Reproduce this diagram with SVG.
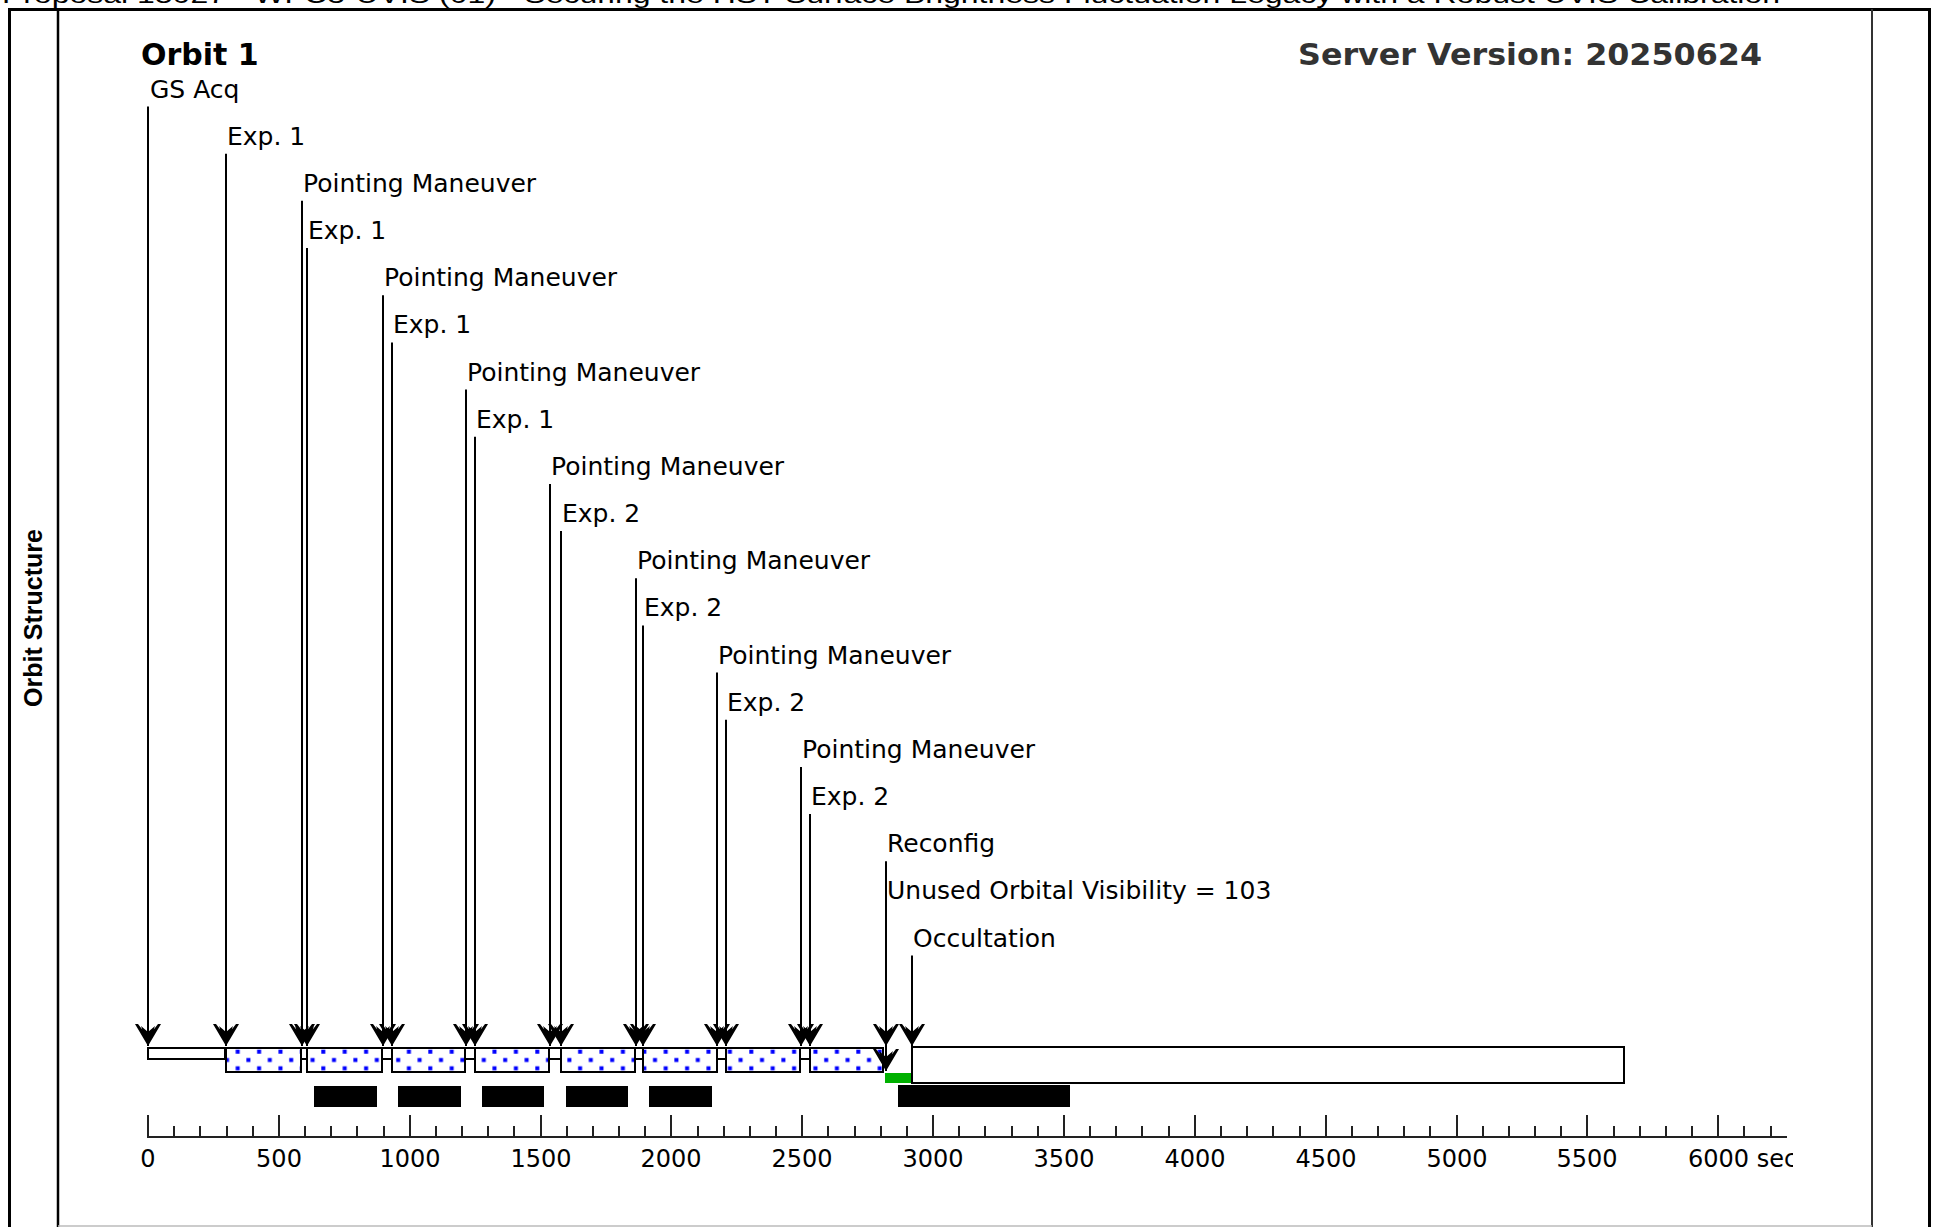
<svg xmlns="http://www.w3.org/2000/svg" width="1939" height="1227" viewBox="0 0 1939 1227">
<style>
.lbl{font-family:"DejaVu Sans",sans-serif;font-size:25px;fill:#000}
.ax{font-family:"DejaVu Sans",sans-serif;font-size:24px;fill:#000;text-anchor:middle}
.ln{stroke:#000;stroke-width:2;fill:none;marker-end:url(#ah)}
.thin{fill:#fff;stroke:#000;stroke-width:2}
.exp{fill:url(#dots);stroke:#000;stroke-width:2}
.blk{fill:#000}
</style>
<defs>
<pattern id="dots" patternUnits="userSpaceOnUse" x="0" y="1046" width="21.4" height="16.6">
<rect width="21.4" height="16.6" fill="#fff"/>
<rect x="0.3" y="3.7" width="4" height="4" fill="#0000ff"/>
<rect x="11" y="12" width="4" height="4" fill="#0000ff"/>
</pattern>
<marker id="ah" markerUnits="userSpaceOnUse" orient="auto" overflow="visible" markerWidth="1" markerHeight="1" refX="0" refY="0">
<path d="M0,0 L-22,-13 L-22,-10 L-9,0 L-22,10 L-22,13 Z M0,0 L-20,-7 L-14,0 L-20,7 Z" fill="#000"/>
</marker>
<clipPath id="plot"><rect x="59" y="10" width="1734" height="1216"/></clipPath>
</defs>
<rect width="1939" height="1227" fill="#fff"/>
<text x="2" y="3" font-family="Liberation Sans, Arial, sans-serif" font-size="24" textLength="1778" lengthAdjust="spacingAndGlyphs">Proposal 18027 - WFC3-UVIS (01) - Securing the HST Surface Brightness Fluctuation Legacy with a Robust UVIS Calibration</text>
<g id="frame">
<rect x="9.5" y="9.5" width="1920" height="1240" fill="none" stroke="#000" stroke-width="3"/>
<line x1="58" y1="9" x2="58" y2="1227" stroke="#000" stroke-width="2.5"/>
<line x1="1872" y1="9" x2="1872" y2="1227" stroke="#333" stroke-width="2"/>
<line x1="58" y1="1226" x2="1872" y2="1226" stroke="#bbb" stroke-width="1.5"/>
</g>
<g id="side-title"><text transform="translate(42,618) rotate(-90)" text-anchor="middle" font-family="Liberation Sans, Arial, sans-serif" font-weight="bold" font-size="25">Orbit Structure</text></g>
<g id="header">
<text x="141" y="65" font-family="DejaVu Sans, sans-serif" font-weight="bold" font-size="30">Orbit 1</text>
<text x="1298" y="65" font-family="DejaVu Sans, sans-serif" font-weight="bold" font-size="30" fill="#333" textLength="464" lengthAdjust="spacingAndGlyphs">Server Version: 20250624</text>
</g>
<g id="bars">
<rect id="bar-gsacq" class="thin" x="148" y="1048" width="77" height="11"/>
<rect id="bar-exp1a" class="exp" x="226" y="1048" width="75" height="24"/>
<rect id="bar-pm1" class="thin" x="301" y="1048" width="6" height="11"/>
<rect id="bar-exp1b" class="exp" x="307" y="1048" width="75" height="24"/>
<rect id="bar-pm2" class="thin" x="382" y="1048" width="10" height="11"/>
<rect id="bar-exp1c" class="exp" x="392" y="1048" width="73" height="24"/>
<rect id="bar-pm3" class="thin" x="465" y="1048" width="10" height="11"/>
<rect id="bar-exp1d" class="exp" x="475" y="1048" width="74" height="24"/>
<rect id="bar-pm4" class="thin" x="549" y="1048" width="12" height="11"/>
<rect id="bar-exp2a" class="exp" x="561" y="1048" width="74" height="24"/>
<rect id="bar-pm5" class="thin" x="635" y="1048" width="8" height="11"/>
<rect id="bar-exp2b" class="exp" x="643" y="1048" width="74" height="24"/>
<rect id="bar-pm6" class="thin" x="717" y="1048" width="9" height="11"/>
<rect id="bar-exp2c" class="exp" x="726" y="1048" width="74" height="24"/>
<rect id="bar-pm7" class="thin" x="800" y="1048" width="10" height="11"/>
<rect id="bar-exp2d" class="exp" x="810" y="1048" width="73" height="24"/>
<rect id="bar-unused" x="885" y="1073" width="26" height="10" fill="#00b000"/>
<rect id="bar-occ" class="thin" x="912" y="1047" width="712" height="36"/>
</g>
<g id="shadow-bars">
<rect class="blk" x="314" y="1086" width="63" height="21"/>
<rect class="blk" x="398" y="1086" width="63" height="21"/>
<rect class="blk" x="482" y="1086" width="62" height="21"/>
<rect class="blk" x="566" y="1086" width="62" height="21"/>
<rect class="blk" x="649" y="1086" width="63" height="21"/>
<rect class="blk" x="898" y="1085" width="172" height="22"/>
</g>
<g id="connectors">
<line class="ln" x1="148" y1="106.5" x2="148" y2="1046"/>
<line class="ln" x1="226" y1="153.7" x2="226" y2="1046"/>
<line class="ln" x1="302" y1="200.8" x2="302" y2="1046"/>
<line class="ln" x1="307" y1="248" x2="307" y2="1046"/>
<line class="ln" x1="383" y1="295.2" x2="383" y2="1046"/>
<line class="ln" x1="392" y1="342.4" x2="392" y2="1046"/>
<line class="ln" x1="466" y1="389.5" x2="466" y2="1046"/>
<line class="ln" x1="475" y1="436.7" x2="475" y2="1046"/>
<line class="ln" x1="550" y1="483.9" x2="550" y2="1046"/>
<line class="ln" x1="561" y1="531" x2="561" y2="1046"/>
<line class="ln" x1="636" y1="578.2" x2="636" y2="1046"/>
<line class="ln" x1="643" y1="625.4" x2="643" y2="1046"/>
<line class="ln" x1="717" y1="672.5" x2="717" y2="1046"/>
<line class="ln" x1="726" y1="719.7" x2="726" y2="1046"/>
<line class="ln" x1="801" y1="766.9" x2="801" y2="1046"/>
<line class="ln" x1="810" y1="814.1" x2="810" y2="1046"/>
<line class="ln" x1="886" y1="861.2" x2="886" y2="1046"/>
<line class="ln" x1="886" y1="908.4" x2="886" y2="1071"/>
<line class="ln" x1="912" y1="955.6" x2="912" y2="1046"/>
</g>
<g id="ev-gsacq"><text class="lbl" x="150" y="97.5">GS Acq</text></g>
<g id="ev-exp1-1"><text class="lbl" x="227" y="144.7">Exp. 1</text></g>
<g id="ev-pm-1"><text class="lbl" x="303" y="191.8">Pointing Maneuver</text></g>
<g id="ev-exp1-2"><text class="lbl" x="308" y="239">Exp. 1</text></g>
<g id="ev-pm-2"><text class="lbl" x="384" y="286.2">Pointing Maneuver</text></g>
<g id="ev-exp1-3"><text class="lbl" x="393" y="333.4">Exp. 1</text></g>
<g id="ev-pm-3"><text class="lbl" x="467" y="380.5">Pointing Maneuver</text></g>
<g id="ev-exp1-4"><text class="lbl" x="476" y="427.7">Exp. 1</text></g>
<g id="ev-pm-4"><text class="lbl" x="551" y="474.9">Pointing Maneuver</text></g>
<g id="ev-exp2-1"><text class="lbl" x="562" y="522">Exp. 2</text></g>
<g id="ev-pm-5"><text class="lbl" x="637" y="569.2">Pointing Maneuver</text></g>
<g id="ev-exp2-2"><text class="lbl" x="644" y="616.4">Exp. 2</text></g>
<g id="ev-pm-6"><text class="lbl" x="718" y="663.5">Pointing Maneuver</text></g>
<g id="ev-exp2-3"><text class="lbl" x="727" y="710.7">Exp. 2</text></g>
<g id="ev-pm-7"><text class="lbl" x="802" y="757.9">Pointing Maneuver</text></g>
<g id="ev-exp2-4"><text class="lbl" x="811" y="805.1">Exp. 2</text></g>
<g id="ev-reconfig"><text class="lbl" x="887" y="852.2">Reconfig</text></g>
<g id="ev-unused"><text class="lbl" x="887" y="899.4">Unused Orbital Visibility = 103</text></g>
<g id="ev-occ"><text class="lbl" x="913" y="946.6">Occultation</text></g>
<g id="axis" clip-path="url(#plot)">
<line x1="147" y1="1137" x2="1787" y2="1137" stroke="#222" stroke-width="2"/>
<path stroke="#222" stroke-width="2" fill="none" d="M148,1115V1137M279,1115V1137M410,1115V1137M541,1115V1137M671,1115V1137M802,1115V1137M933,1115V1137M1064,1115V1137M1195,1115V1137M1326,1115V1137M1457,1115V1137M1587,1115V1137M1718,1115V1137"/>
<path stroke="#222" stroke-width="2" fill="none" d="M174,1126V1137M200,1126V1137M227,1126V1137M253,1126V1137M305,1126V1137M331,1126V1137M357,1126V1137M384,1126V1137M436,1126V1137M462,1126V1137M488,1126V1137M514,1126V1137M567,1126V1137M593,1126V1137M619,1126V1137M645,1126V1137M698,1126V1137M724,1126V1137M750,1126V1137M776,1126V1137M828,1126V1137M855,1126V1137M881,1126V1137M907,1126V1137M959,1126V1137M985,1126V1137M1012,1126V1137M1038,1126V1137M1090,1126V1137M1116,1126V1137M1142,1126V1137M1169,1126V1137M1221,1126V1137M1247,1126V1137M1273,1126V1137M1300,1126V1137M1352,1126V1137M1378,1126V1137M1404,1126V1137M1430,1126V1137M1483,1126V1137M1509,1126V1137M1535,1126V1137M1561,1126V1137M1614,1126V1137M1640,1126V1137M1666,1126V1137M1692,1126V1137M1744,1126V1137M1771,1126V1137"/>
<text class="ax" x="148" y="1167">0</text>
<text class="ax" x="279" y="1167">500</text>
<text class="ax" x="410" y="1167">1000</text>
<text class="ax" x="541" y="1167">1500</text>
<text class="ax" x="671" y="1167">2000</text>
<text class="ax" x="802" y="1167">2500</text>
<text class="ax" x="933" y="1167">3000</text>
<text class="ax" x="1064" y="1167">3500</text>
<text class="ax" x="1195" y="1167">4000</text>
<text class="ax" x="1326" y="1167">4500</text>
<text class="ax" x="1457" y="1167">5000</text>
<text class="ax" x="1587" y="1167">5500</text>
<text class="ax" x="1688" y="1167" style="text-anchor:start">6000 sec</text>
</g>
</svg>
